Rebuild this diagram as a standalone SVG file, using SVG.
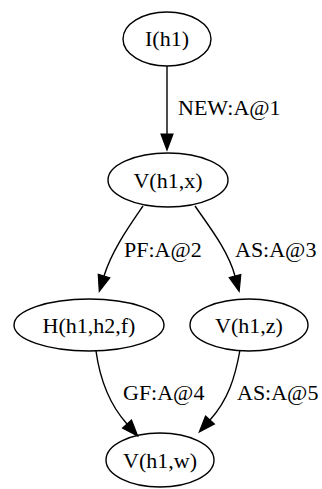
<svg xmlns="http://www.w3.org/2000/svg" width="322" height="489" viewBox="0 0 322 489">
<style>
.n ellipse{fill:none;stroke:#000;stroke-width:1.4}
text{font-family:'Liberation Serif','Times New Roman','DejaVu Serif',serif;font-size:22px;fill:#000}
.n text{text-anchor:middle}
.e path{fill:none;stroke:#000;stroke-width:1.4}
</style>
<defs>
<marker id="ah" markerUnits="userSpaceOnUse" markerWidth="17" markerHeight="13" refX="0" refY="6" orient="auto" overflow="visible">
<path d="M0,0 L16,6 L0,12 z" fill="#000" stroke="#000" stroke-width="1.2"/>
</marker>
</defs>
<rect width="322" height="489" fill="#fff"/>
<g id="edges" class="e">
<path d="M167,66 L167,134" marker-end="url(#ah)"/>
<path d="M143,206 C130,225 112,250 104,276" marker-end="url(#ah)"/>
<path d="M195,206 C208,225 228,250 235,276" marker-end="url(#ah)"/>
<path d="M96,351 C100,380 110,405 127,424" marker-end="url(#ah)"/>
<path d="M240,350 C235,378 228,400 210,420" marker-end="url(#ah)"/>
<text x="178" y="115">NEW:A@1</text>
<text x="124" y="257">PF:A@2</text>
<text x="235" y="257">AS:A@3</text>
<text x="123" y="400">GF:A@4</text>
<text x="237" y="400">AS:A@5</text>
</g>
<g id="I_h1" class="n"><ellipse cx="167" cy="39" rx="44" ry="27"/><text x="167" y="46">I(h1)</text></g>
<g id="V_h1_x" class="n"><ellipse cx="168" cy="180" rx="60" ry="27"/><text x="168" y="188">V(h1,x)</text></g>
<g id="H_h1_h2_f" class="n"><ellipse cx="89" cy="325" rx="75" ry="26"/><text x="89" y="333">H(h1,h2,f)</text></g>
<g id="V_h1_z" class="n"><ellipse cx="249" cy="325" rx="59" ry="26"/><text x="249" y="333">V(h1,z)</text></g>
<g id="V_h1_w" class="n"><ellipse cx="160" cy="460" rx="54" ry="27"/><text x="160" y="468">V(h1,w)</text></g>
</svg>
